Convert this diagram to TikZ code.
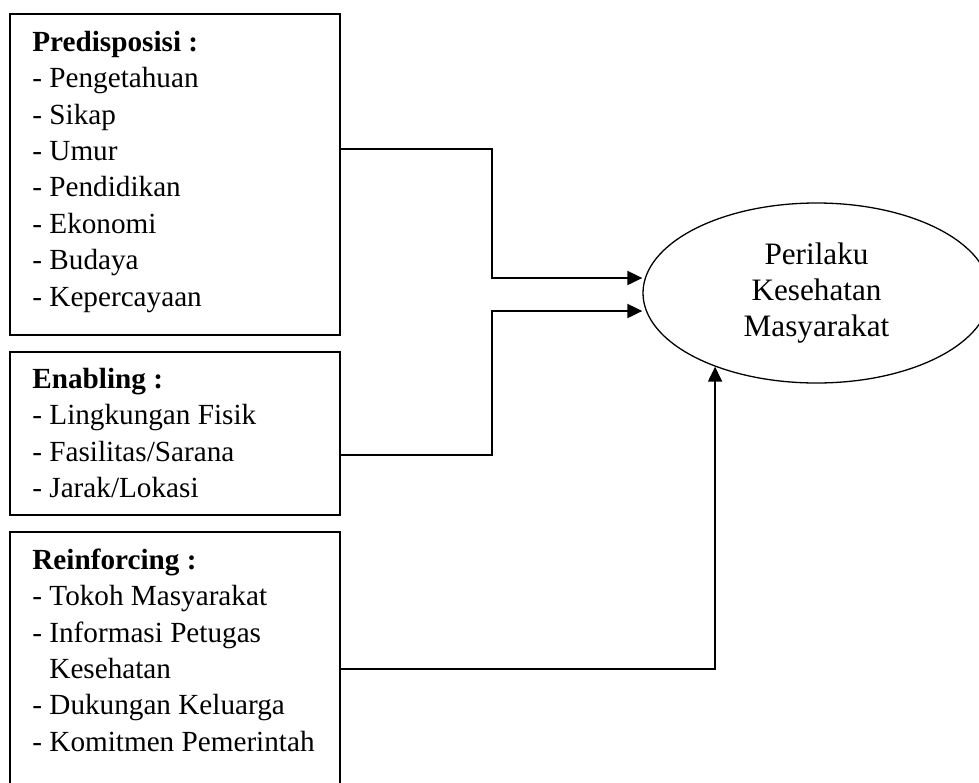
\documentclass[tikz,border=0pt]{standalone}
\usepackage{fontspec}
\setmainfont{Liberation Serif}
\usetikzlibrary{arrows.meta,calc,shapes.geometric}

\begin{document}
\begin{tikzpicture}[x=0.5pt,y=-0.5pt,>={Triangle[length=7.5pt,width=7pt]},
  box/.style={draw,line width=1pt,minimum width=165pt,inner sep=0pt,outer sep=0pt,anchor=north west},
  list/.style={align=left,inner sep=0pt,anchor=north west,font=\fontsize{14.6}{18.2}\selectfont},
  link/.style={->,line width=1pt}]

\useasboundingbox (0,0) rectangle (979,782);

\node[box,minimum height=160.5pt](P) at (10,14) {};
\node[box,minimum height=81.5pt](E) at (10,352) {};
\node[box,minimum height=134pt](R) at (10,532) {};
\node[ellipse,draw,line width=0.65pt,minimum width=173.5pt,minimum height=90pt,inner sep=0pt,
  align=center,font=\fontsize{15.6}{18}\selectfont](PK) at (816.5,293) {Perilaku\\Kesehatan\\Masyarakat};

\node[list](Plist) at ($(P.north west)+(22,11.5)$) {\strut\textbf{Predisposisi :}\\- Pengetahuan\\- Sikap\\- Umur\\- Pendidikan\\- Ekonomi\\- Budaya\\- Kepercayaan};
\node[list](Elist) at ($(E.north west)+(22,10.5)$) {\strut\textbf{Enabling :}\\- Lingkungan Fisik\\- Fasilitas/Sarana\\- Jarak/Lokasi};
\node[list](Rlist) at ($(R.north west)+(22,11.5)$) {\strut\textbf{Reinforcing :}\\- Tokoh Masyarakat\\- Informasi Petugas\\\phantom{- }Kesehatan\\- Dukungan Keluarga\\- Komitmen Pemerintah};

\draw[link] (P.east |- 0,149) -| (492,278) -- (PK.west |- 0,278);
\draw[link] (E.east |- 0,455) -| (492,311) -- (PK.west |- 0,311);
\draw[link] (R.east |- 0,669) -| (PK.216.6);
\end{tikzpicture}
\end{document}
